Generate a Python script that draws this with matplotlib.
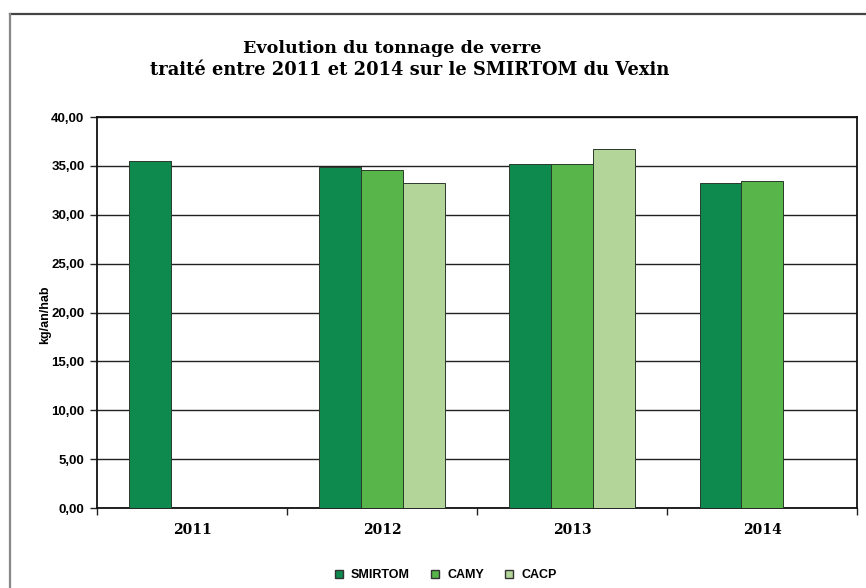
import matplotlib
matplotlib.use("Agg")
import matplotlib.pyplot as plt
from matplotlib.lines import Line2D
import numpy as np

years = ["2011", "2012", "2013", "2014"]
series_names = ["SMIRTOM", "CAMY", "CACP"]
smirtom = [35.5, 34.9, 35.2, 33.3]
camy = [np.nan, 34.6, 35.2, 33.5]
cacp = [np.nan, 33.3, 36.7, np.nan]
yticks = [0, 5, 10, 15, 20, 25, 30, 35, 40]
colors = ["#0f8a4f", "#58b54a", "#b4d59a"]
title_lines = ["Evolution du tonnage de verre",
               "traité entre 2011 et 2014 sur le SMIRTOM du Vexin"]

fig = plt.figure(figsize=(8.66, 5.88), dpi=100)
ax = fig.add_axes([0.112, 0.136, 0.878, 0.665])

x = np.arange(len(years))
w = 0.22
for i, (vals, c, name) in enumerate(zip([smirtom, camy, cacp], colors, series_names)):
    ax.bar(x + (i - 1) * w, vals, width=w, color=c, edgecolor="#2a3a2a",
           linewidth=0.7, label=name, zorder=3)

ax.set_xlim(-0.5, 3.5)
ax.set_ylim(0, 40)
ax.set_yticks(yticks)
ax.set_yticklabels([f"{v:.2f}".replace(".", ",") for v in yticks],
                   fontfamily="Liberation Sans", fontweight="bold", fontsize=9.5)
ax.yaxis.grid(True, color="#222222", linewidth=1.0, zorder=0)
ax.set_axisbelow(True)
ax.set_xticks(x)
ax.set_xticklabels(years, fontfamily="DejaVu Serif", fontweight="bold", fontsize=10)
ax.set_xticks(np.arange(-0.5, 4.0, 1.0), minor=True)
ax.tick_params(axis="x", which="major", length=0, pad=11)
ax.tick_params(axis="x", which="minor", length=5, width=1, color="#222222", direction="out")
ax.tick_params(axis="y", length=5, width=1, color="#222222", direction="out", pad=4)
for s in ax.spines.values():
    s.set_color("#111111")
    s.set_linewidth(1.3)

fig.text(0.052, 0.465, "kg/an/hab", rotation=90, ha="center", va="center",
         fontfamily="Liberation Sans", fontweight="bold", fontsize=9)

fig.text(0.453, 0.918, title_lines[0], ha="center", va="center",
         fontfamily="DejaVu Serif", fontweight="bold", fontsize=12.6)
fig.text(0.473, 0.881, title_lines[1], ha="center", va="center",
         fontfamily="DejaVu Serif", fontweight="bold", fontsize=12.9)

handles = [Line2D([0], [0], marker="s", linestyle="none", markersize=6,
                  markerfacecolor=c, markeredgecolor="#333333", markeredgewidth=1.0)
           for c in colors]
leg = fig.legend(handles, series_names, loc="center", bbox_to_anchor=(0.51, 0.022),
                 ncol=3, frameon=False, handletextpad=0.0, columnspacing=1.0,
                 prop={"family": "Liberation Sans", "weight": "bold", "size": 9})

# outer frame (top and left edges)
fig.add_artist(Line2D([0.012, 1.0], [0.976, 0.976], transform=fig.transFigure,
                      color="#444444", linewidth=1.6))
fig.add_artist(Line2D([0.012, 0.012], [0.0, 0.976], transform=fig.transFigure,
                      color="#888888", linewidth=1.6))

fig.savefig("out.png", dpi=100)
